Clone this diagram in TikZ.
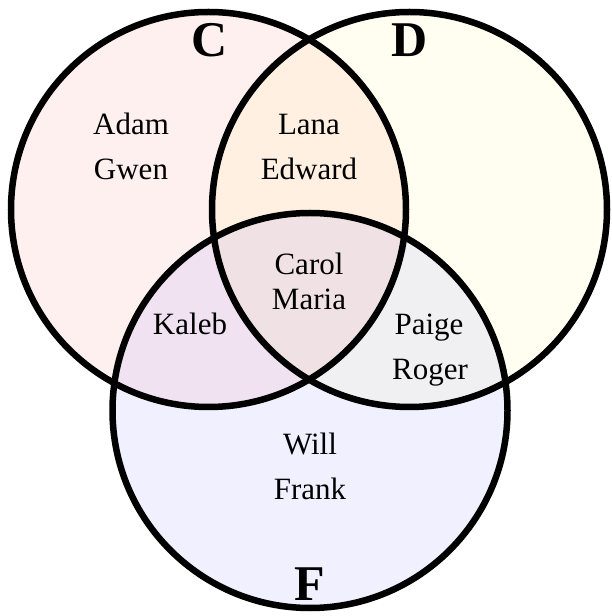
\documentclass[tikz,border=0pt]{standalone}
\usepackage{fontspec}
\setmainfont{Liberation Serif}
\newfontfamily\vennfont{Liberation Serif}
\begin{document}
\begin{tikzpicture}[x=0.5pt,y=0.5pt,
  ring/.style={draw=black, line width=3.25pt},
  shade/.style={fill opacity=0.06},
  who/.style={anchor=base, inner sep=0pt, font=\vennfont\fontsize{15.5}{18}\selectfont},
  tag/.style={anchor=base, inner sep=0pt, font=\vennfont\fontsize{25}{30}\selectfont\bfseries}]
\useasboundingbox (0,0) rectangle (611,616);
\coordinate (c) at (208.5,406.5);
\coordinate (d) at (409.5,406.5);
\coordinate (f) at (310,205.5);
\fill [red, shade] (c) circle (197.5);
\fill [yellow, shade] (d) circle (197.5);
\fill [blue, shade] (f) circle (197.5);
\draw [ring] (c) circle (197.5);
\draw [ring] (d) circle (197.5);
\draw [ring] (f) circle (197.5);
\node [tag] (tc) at (210,559) {C};
\node [tag] (td) at (410,559) {D};
\node [tag] (tf) at (310,16) {F};
\node [who] (adam) at (131,481) {Adam};
\node [who] (gwen) at (131,436) {Gwen};
\node [who] (lana) at (309,481) {Lana};
\node [who] (edward) at (309,436) {Edward};
\node [who] (carol) at (309,341) {Carol};
\node [who] (maria) at (309,306) {Maria};
\node [who] (kaleb) at (190,281) {Kaleb};
\node [who] (paige) at (429,281) {Paige};
\node [who] (roger) at (430,236) {Roger};
\node [who] (will) at (310,161) {Will};
\node [who] (frank) at (310,116) {Frank};
\end{tikzpicture}
\end{document}
